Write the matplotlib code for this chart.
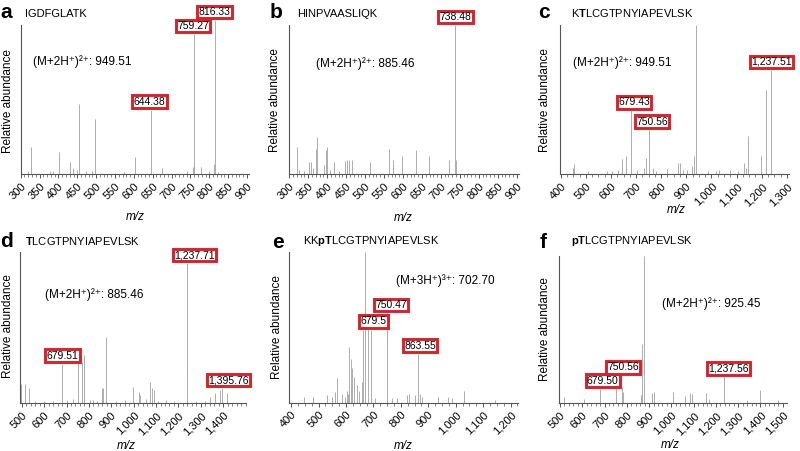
import matplotlib
matplotlib.use('Agg')
import matplotlib.pyplot as plt
from matplotlib.ticker import MultipleLocator

plt.rcParams['font.family'] = ['Liberation Sans', 'DejaVu Sans']
plt.rcParams['mathtext.fontset'] = 'custom'
plt.rcParams['mathtext.rm'] = 'Liberation Sans'
plt.rcParams['mathtext.bf'] = 'Liberation Sans:bold'
plt.rcParams['mathtext.it'] = 'Liberation Sans:italic'

W, H = 800, 451

# ---- data (m/z, relative abundance %) ----
a_mz = [320, 326.5, 377.7, 386.5, 402, 431.7, 439.7, 448.6, 455.7, 473, 489, 497, 550, 574,
        603, 644.38, 674, 740, 757, 759.27, 776.8, 798, 813, 816.33, 824]
a_int = [2, 18, 2, 2.5, 15, 8, 4, 3, 47, 2, 2, 37, 1, 1.5,
         11.6, 43.3, 4, 2, 5, 94, 5, 2, 7, 103.4, 1.5]
a_lab = ['644.38', '759.27', '816.33']
a_labmz = [644.38, 759.27, 816.33]

b_mz = [321, 326, 340, 351, 356, 363, 369.5, 374, 390.6, 396.8, 400, 407, 419, 431, 447, 451,
        456.6, 466, 512, 564, 574.5, 598, 633, 669.5, 720.5, 738.48, 741, 772]
b_int = [18, 3, 2, 8, 8, 4, 17, 25, 6, 16, 18, 3, 8, 2, 9, 9.5,
         9.5, 9.5, 8.5, 17, 9.5, 12, 16, 12, 9.5, 100, 9.5, 1]
b_lab = ['738.48']
b_labmz = [738.48]

c_mz = [448, 452, 510, 583, 606, 626, 645.6, 661.5, 679.43, 702.6, 733, 741, 750.56, 769, 778,
        825, 865, 875, 886, 902, 922, 929.6, 939, 985, 1018.6, 1032, 1074, 1107.5, 1130, 1138,
        1147, 1198, 1219, 1237.51]
c_int = [4, 6.7, 2, 2.5, 2, 3, 10, 12.5, 42.9, 3, 4.5, 10.7, 29.9, 4, 2,
         3.4, 7.4, 7.4, 3, 3, 5.6, 12, 100, 2, 2, 3, 3, 2, 7.4, 4,
         25.7, 12, 56.6, 70]
c_lab = ['679.43', '750.56', '1,237.51']
c_labmz = [679.43, 750.56, 1237.51]

d_mz = [497, 515, 533, 560, 600, 640, 679.51, 700, 728, 749, 768, 776, 805.5, 820, 835, 857.7,
        865, 875.6, 920, 960, 999, 1021.6, 1029, 1054, 1074, 1084, 1091.6, 1110, 1144, 1180,
        1237.71, 1280, 1319.7, 1339, 1364, 1386.7, 1395.76, 1416.5]
d_int = [12.8, 13, 10, 1.5, 1.5, 1.5, 26.2, 2, 3, 31, 27.6, 32, 2, 2, 1.5, 10,
         10, 44, 1.5, 2, 11, 7.7, 5.5, 3, 14, 10, 8.8, 1.5, 2, 1.5,
         92.9, 1.5, 1.5, 4.4, 6.6, 8.8, 10.1, 6.6]
d_lab = ['679.51', '1,237.71', '1,395.76']
d_labmz = [679.51, 1237.71, 1395.76]

e_mz = [447, 480, 529, 547, 559, 568, 584, 596, 602, 606, 612, 618, 623, 630, 640, 648, 657,
        663, 669, 679.5, 690, 705.5, 750.47, 769, 785, 821, 830, 851, 863.55, 870, 876, 937,
        973, 985, 1031, 1143]
e_int = [4, 4, 5, 4, 7, 16.5, 6, 4, 8, 6, 37, 29, 23, 17, 12, 8, 14,
         48, 100, 48.6, 48, 3, 59.4, 3, 3, 5, 6, 5, 32.5, 6, 4, 4,
         4, 3, 7.7, 2]
e_lab = ['679.5', '750.47', '863.55']
e_labmz = [679.5, 750.47, 863.55]

f_mz = [519, 610, 679.50, 750.56, 779, 784, 864, 870, 878.5, 912, 922, 1006, 1061, 1083.6,
        1091, 1154, 1169, 1237.56, 1338, 1396, 1480]
f_int = [4.5, 3, 9.9, 19, 11, 8, 5.6, 40, 100, 7, 8, 8, 5, 7,
         6, 7, 3, 18.3, 2, 9, 2]
f_lab = ['679.50', '750.56', '1,237.56']
f_labmz = [679.50, 750.56, 1237.56]

letters = ['a', 'b', 'c', 'd', 'e', 'f']
peptides = ['IGDFGLATK', 'HINPVAASLIQK', r'K$\mathbf{T}$LCGTPNYIAPEVLSK',
            r'$\mathbf{T}$LCGTPNYIAPEVLSK', r'KK$\mathbf{pT}$LCGTPNYIAPEVLSK',
            r'$\mathbf{pT}$LCGTPNYIAPEVLSK']
precursors = ['(M+2H\u207a)\u00b2\u207a: 949.51', '(M+2H\u207a)\u00b2\u207a: 885.46',
              '(M+2H\u207a)\u00b2\u207a: 949.51', '(M+2H\u207a)\u00b2\u207a: 885.46',
              '(M+3H\u207a)\u00b3\u207a: 702.70', '(M+2H\u207a)\u00b2\u207a: 925.45']

# ---- layout in pixels (y measured from top) ----
panels = [
    dict(mz=a_mz, it=a_int, lab=a_lab, labmz=a_labmz, box=(20.7, 248.9, 174.3, 25),
         xlim=(300, 905), ticks=range(300, 901, 50), minor=10, dx=[-1, -0.7, -1],
         letter=(0, 18.3), title=(25, 16.7), prec=(33, 65), ylab=(8.3, 100.8), xlab=(135, 216.7)),
    dict(mz=b_mz, it=b_int, lab=b_lab, labmz=b_labmz, box=(289.3, 518.6, 174.3, 25),
         xlim=(300, 905), ticks=range(300, 901, 50), minor=10, dx=[0],
         letter=(270, 18.3), title=(297.3, 16.7), prec=(315.7, 66.7), ylab=(275, 100), xlab=(403.3, 218.3)),
    dict(mz=c_mz, it=c_int, lab=c_lab, labmz=c_labmz, box=(559.5, 789.3, 174.3, 25),
         xlim=(395, 1310), ticks=range(400, 1301, 100), minor=25, dx=[3, 3, 0],
         letter=(538, 18.3), title=(570.7, 16.7), prec=(573.3, 66), ylab=(545, 100), xlab=(676.7, 210)),
    dict(mz=d_mz, it=d_int, lab=d_lab, labmz=d_labmz, box=(20, 246, 403.3, 252.3),
         xlim=(492, 1502), ticks=range(500, 1401, 100), minor=20, dx=[0.5, 7.5, 6.5],
         letter=(0, 246.7), title=(25, 245), prec=(45, 298.3), ylab=(8.3, 325.8), xlab=(126.7, 445.7)),
    dict(mz=e_mz, it=e_int, lab=e_lab, labmz=e_labmz, box=(289.3, 518, 402.7, 251.7),
         xlim=(393, 1227), ticks=range(400, 1201, 100), minor=25, dx=[5.7, 3.7, 1.7],
         letter=(272.3, 248.3), title=(302.7, 244.3), prec=(396, 284), ylab=(276.7, 326.7), xlab=(403.3, 445.7)),
    dict(mz=f_mz, it=f_int, lab=f_lab, labmz=f_labmz, box=(559.3, 786.7, 403.3, 256),
         xlim=(497, 1518), ticks=range(500, 1501, 100), minor=20, dx=[2.8, 7.5, 4.7],
         letter=(539.3, 247.7), title=(570.7, 244.3), prec=(662.3, 306.7), ylab=(545, 329), xlab=(670, 445)),
]

fig = plt.figure(figsize=(W / 100, H / 100), dpi=100)


def fx(x):
    return x / W


def fy(y):
    return 1 - y / H


for i, p in enumerate(panels):
    x0, x1, yb, yt = p['box']
    ax = fig.add_axes([fx(x0), fy(yb), (x1 - x0) / W, (yb - yt) / H])
    ax.vlines(p['mz'], 0, p['it'], color='#a0a0a0', lw=0.6, clip_on=False)
    ax.set_xlim(*p['xlim'])
    ax.set_ylim(0, 100)
    for s in ['top', 'right']:
        ax.spines[s].set_visible(False)
    for s in ['left', 'bottom']:
        ax.spines[s].set_color('#555555')
        ax.spines[s].set_linewidth(0.8)
    ax.set_yticks([])
    ticks = list(p['ticks'])
    ax.set_xticks(ticks)
    ax.set_xticklabels([f'{t:,}' for t in ticks], rotation=45, ha='right', va='top',
                       rotation_mode='anchor', fontsize=8)
    ax.xaxis.set_minor_locator(MultipleLocator(p['minor']))
    ax.tick_params(axis='x', which='major', length=3, width=0.7, color='#555555', pad=2)
    ax.tick_params(axis='x', which='minor', length=1.8, width=0.5, color='#555555')

    # boxed peak labels
    heights = dict(zip(p['mz'], p['it']))
    for lab, m, dx in zip(p['lab'], p['labmz'], p['dx']):
        ax.annotate(lab, xy=(m, heights[m]), xytext=(dx, 8), textcoords='offset pixels',
                    ha='center', va='center', fontsize=7.5, annotation_clip=False,
                    bbox=dict(boxstyle='square,pad=0.12', fc='white', ec='#e21d26', lw=2.1))

    fig.text(fx(p['letter'][0]), fy(p['letter'][1]), letters[i], fontsize=15,
             fontweight='bold', va='baseline', ha='left')
    fig.text(fx(p['title'][0]), fy(p['title'][1]), peptides[i], fontsize=8,
             va='baseline', ha='left')
    fig.text(fx(p['prec'][0]), fy(p['prec'][1]), precursors[i], fontsize=8.5,
             va='baseline', ha='left')
    fig.text(fx(p['ylab'][0]), fy(p['ylab'][1]), 'Relative abundance', fontsize=8.5,
             rotation=90, va='center', ha='center')
    fig.text(fx(p['xlab'][0]), fy(p['xlab'][1]), 'm/z', fontsize=8.5, style='italic',
             va='center', ha='center')

fig.savefig('out.png', dpi=100)
